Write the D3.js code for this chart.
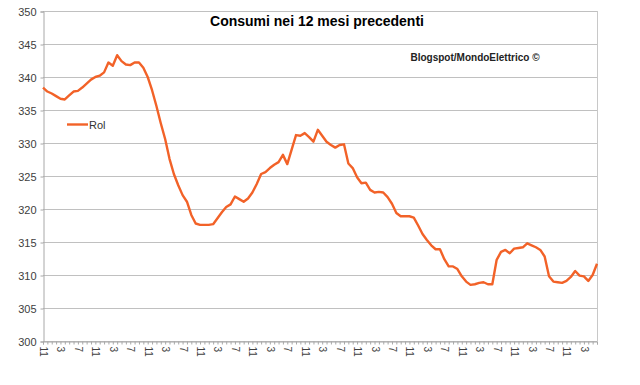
<!DOCTYPE html>
<html>
<head>
<meta charset="utf-8">
<script src="https://cdn.jsdelivr.net/npm/d3@7"></script>
<style>
  body { margin: 0; background: #fff; }
  svg { display: block; font-family: "Liberation Sans", Arial, sans-serif; }
</style>
</head>
<body>
<svg id="chart"></svg>
<script>
    // mesi (categorie), si parte da novembre
    var months = [11,12,1,2,3,4,5,6,7,8,9,10,11,12,1,2,3,4,5,6,7,8,9,10,
                  11,12,1,2,3,4,5,6,7,8,9,10,11,12,1,2,3,4,5,6,7,8,9,10,
                  11,12,1,2,3,4,5,6,7,8,9,10,11,12,1,2,3,4,5,6,7,8,9,10,
                  11,12,1,2,3,4,5,6,7,8,9,10,11,12,1,2,3,4,5,6,7,8,9,10,
                  11,12,1,2,3,4,5,6,7,8,9,10,11,12,1,2,3,4,5,6,7,8,9,10,
                  11,12,1,2,3,4,5,6];

    // consumi nei 12 mesi precedenti (TWh)
    var rol = [338.4,337.8,337.5,337.1,336.7,336.6,337.2,337.8,337.9,338.4,
               339.0,339.6,340.0,340.2,340.7,342.2,341.7,343.3,342.4,341.9,
               341.8,342.2,342.2,341.4,340.0,338.0,335.6,333.0,330.6,327.6,
               325.3,323.6,322.1,321.1,319.1,317.8,317.6,317.6,317.6,317.7,
               318.6,319.5,320.3,320.7,321.9,321.5,321.1,321.6,322.5,323.8,
               325.3,325.6,326.2,326.7,327.1,328.2,326.8,329.0,331.2,331.1,
               331.5,330.9,330.2,332.0,331.1,330.2,329.7,329.3,329.7,329.8,
               326.9,326.2,324.8,323.9,324.0,322.9,322.5,322.6,322.5,321.8,
               320.8,319.4,318.9,318.9,318.9,318.7,317.5,316.2,315.3,314.5,
               313.9,313.9,312.4,311.3,311.3,310.9,309.8,309.0,308.5,308.6,
               308.8,308.9,308.6,308.6,312.3,313.5,313.8,313.3,314.0,314.1,
               314.2,314.8,314.5,314.2,313.8,312.8,309.8,309.0,308.9,308.8,
               309.1,309.7,310.6,309.9,309.8,309.1,310.0,311.7];

    var yTicks = [300,305,310,315,320,325,330,335,340,345,350];

    var W = 640, H = 385;
    var plotLeft = 43, plotRight = 597, plotTop = 11, plotBottom = 341;

    var svg = d3.select("#chart")
        .attr("width", W)
        .attr("height", H);

    var x = d3.scaleLinear()
        .domain([0, rol.length - 1])
        .range([plotLeft, plotRight]);

    var y = d3.scaleLinear()
        .domain([300, 350])
        .range([plotBottom, plotTop]);

    // griglia orizzontale
    svg.append("g")
        .selectAll("line")
        .data(yTicks)
        .enter()
        .append("line")
        .attr("x1", plotLeft)
        .attr("x2", plotRight)
        .attr("y1", d => y(d) + 0.5)
        .attr("y2", d => y(d) + 0.5)
        .attr("stroke", "#c0c0c0")
        .attr("stroke-width", 1);

    // bordo destro
    svg.append("line")
        .attr("x1", plotRight + 0.5).attr("x2", plotRight + 0.5)
        .attr("y1", plotTop).attr("y2", plotBottom)
        .attr("stroke", "#c8c8c8");

    // asse y
    var yAxis = svg.append("g")
        .attr("transform", "translate(" + (plotLeft + 0.5) + ",0.5)")
        .call(d3.axisLeft(y).tickValues(yTicks).tickSize(3).tickPadding(4));
    yAxis.select(".domain").attr("stroke", "#a8a8a8");
    yAxis.selectAll(".tick line").attr("stroke", "#a8a8a8");
    yAxis.selectAll("text")
        .attr("fill", "#404040")
        .style("font-size", "11px")
        .style("font-family", "Liberation Sans, Arial, sans-serif");

    // asse x: tacche mensili, etichetta ogni 4 mesi
    var xAxis = svg.append("g")
        .attr("transform", "translate(0," + (plotBottom + 0.5) + ")")
        .call(d3.axisBottom(x)
            .tickValues(d3.range(rol.length))
            .tickSize(3)
            .tickFormat(d => d % 4 == 0 ? months[d] : ""));
    xAxis.select(".domain").attr("stroke", "#a8a8a8");
    xAxis.selectAll(".tick line").attr("stroke", "#a8a8a8");
    xAxis.selectAll("text")
        .attr("fill", "#404040")
        .style("font-size", "10px")
        .style("font-family", "Liberation Sans, Arial, sans-serif")
        .attr("text-anchor", "start")
        .attr("dy", "0.35em")
        .attr("y", 0)
        .attr("transform", "translate(0,5) rotate(90)");

    // serie
    var line = d3.line()
        .x((d, i) => x(i))
        .y(d => y(d));

    svg.append("path")
        .datum(rol)
        .attr("d", line)
        .attr("fill", "none")
        .attr("stroke", "#f26228")
        .attr("stroke-width", 2.4)
        .attr("stroke-linejoin", "round");

    // titolo
    svg.append("text")
        .attr("x", 317)
        .attr("y", 26)
        .attr("text-anchor", "middle")
        .attr("font-weight", "bold")
        .attr("font-size", "14px")
        .attr("fill", "#000")
        .text("Consumi nei 12 mesi precedenti");

    svg.append("text")
        .attr("x", 475)
        .attr("y", 61)
        .attr("text-anchor", "middle")
        .attr("font-weight", "bold")
        .attr("font-size", "10px")
        .attr("fill", "#222")
        .text("Blogspot/MondoElettrico \u00a9");

    // legenda
    svg.append("line")
        .attr("x1", 67).attr("x2", 88)
        .attr("y1", 124.5).attr("y2", 124.5)
        .attr("stroke", "#f26228")
        .attr("stroke-width", 2.4);

    svg.append("text")
        .attr("x", 89)
        .attr("y", 128.5)
        .attr("font-size", "11px")
        .attr("fill", "#333")
        .text("Rol");
</script>
</body>
</html>
